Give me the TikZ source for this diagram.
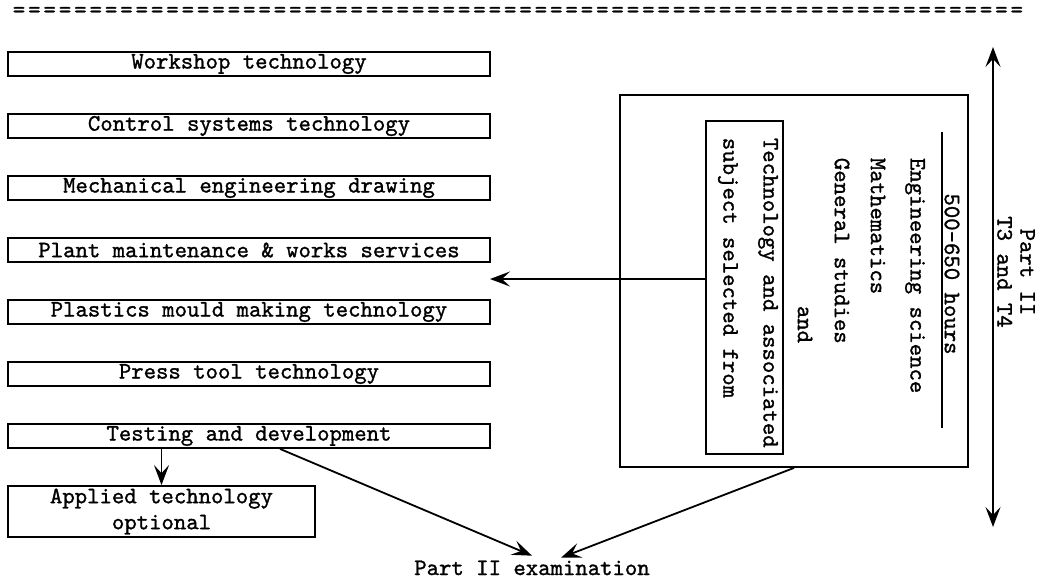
\documentclass[tikz,border=0pt]{standalone}
\usepackage{fontspec}
\newfontfamily\typew{lmmono10-regular.otf}[FakeBold=1.2]
\usetikzlibrary{arrows.meta}

\tikzset{
	tt/.style={font=\fontsize{23.6}{37}\selectfont\typew},
	subjbox/.style={tt,draw,minimum width=482pt,minimum height=24pt,inner sep=0pt},
	sidetext/.style={tt,rotate=-90,anchor=west,inner sep=0pt}
}

\begin{document}
\begin{tikzpicture}[x=1pt,y=-1pt,line width=1.8pt,
	>={Stealth[length=20pt,width=15pt,inset=8pt]}]
\useasboundingbox (0,0) rectangle (1043,579);
\foreach \i in {0,...,65}
	\node[tt,inner sep=0pt] (eq\i) at ({19+15.35*\i},12) {=};
\foreach \name/\txt [count=\i from 0] in {workshop/Workshop technology,
	control/Control systems technology, mechanical/Mechanical engineering drawing,
	plant/Plant maintenance \& works services, plastics/Plastics mould making technology,
	press/Press tool technology, testing/Testing and development}
	\node[subjbox] (\name) at (249,{64+62*\i}) {\txt};
\node[subjbox,minimum width=307pt,minimum height=51pt,align=center,
	font=\fontsize{23.6}{26}\selectfont\typew] (applied) at (161.5,511.5)
	{Applied technology\\optional};
\draw[->] (testing.south -| applied.north) -- (applied.north);

\node[draw,minimum width=348pt,minimum height=372pt] (part2) at (794,281) {};
\node[draw,minimum width=77pt,minimum height=333pt] (inner) at (744.5,287.5) {};
\node[tt,rotate=-90,inner sep=0pt] (hours) at (952,274) {500-650 hours};
\draw (942,132) coordinate (ruletop) -- (942,428) coordinate (rulebot);
\node[sidetext] (engsci) at (915,157) {Engineering science};
\node[sidetext] (maths) at (878,157) {Mathematics};
\node[sidetext] (general) at (842,157) {General studies};
\node[sidetext] (andword) at (805,305) {and};
\node[sidetext] (techassoc) at (768,137) {Technology and associated};
\node[sidetext] (subjsel) at (728,137) {subject selected from};
\coordinate (techto) at (490,279);
\draw[->] ([yshift=8.5pt]inner.west) -- (techto);

\coordinate (spantop) at (993,47);
\coordinate (spanbot) at (993,527);
\draw[<->] (spantop) -- (spanbot);
\node[tt,rotate=-90,align=center,font=\fontsize{23.6}{23}\selectfont\typew]
	(partlabel) at (1016,272) {Part II\\T3 and T4};

\node[tt,anchor=base,inner sep=2pt] (exam) at (532,575) {Part II examination};
\draw[->] ([xshift=31pt]testing.south) -- ([yshift=2pt]exam.north);
\draw[->] (part2.south) -- ([xshift=29pt]exam.north);
\end{tikzpicture}
\end{document}
